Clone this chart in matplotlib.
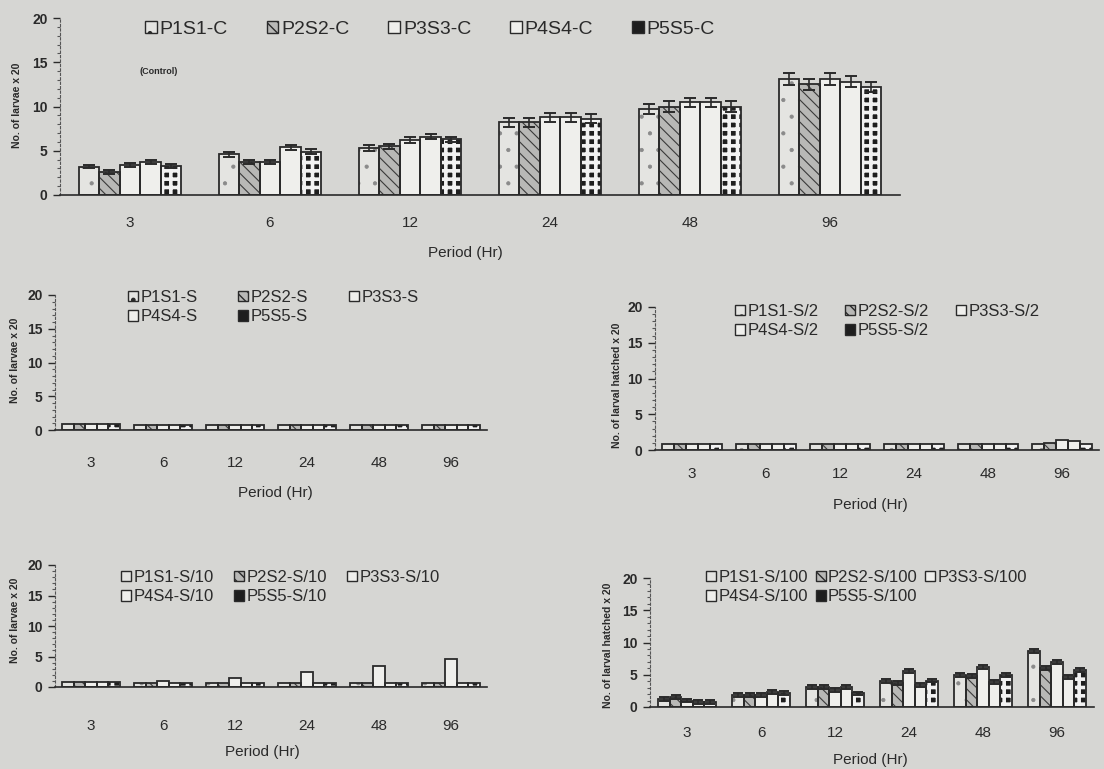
import numpy as np
import matplotlib
matplotlib.use("Agg")
import matplotlib.pyplot as plt
from matplotlib.patches import Rectangle

#%% data (No. of larvae x 20)

periods = ["3", "6", "12", "24", "48", "96"]
series = ["P1S1", "P2S2", "P3S3", "P4S4", "P5S5"]

# rows = periods, columns = P1S1..P5S5
control_vals = [[3.2, 2.6, 3.4, 3.7, 3.3],
                [4.6, 3.7, 3.7, 5.4, 4.9],
                [5.3, 5.5, 6.2, 6.6, 6.3],
                [8.2, 8.2, 8.8, 8.8, 8.6],
                [9.7, 10.0, 10.5, 10.5, 10.0],
                [13.1, 12.5, 13.1, 12.8, 12.2]]
control_err = [[0.2, 0.2, 0.2, 0.2, 0.2],
               [0.3, 0.2, 0.2, 0.3, 0.3],
               [0.3, 0.3, 0.3, 0.3, 0.3],
               [0.5, 0.5, 0.5, 0.5, 0.5],
               [0.6, 0.6, 0.5, 0.5, 0.6],
               [0.7, 0.6, 0.7, 0.6, 0.6]]
s_vals = [[0.9, 0.9, 0.9, 0.9, 0.9],
          [0.8, 0.8, 0.8, 0.8, 0.8],
          [0.8, 0.8, 0.8, 0.8, 0.8],
          [0.8, 0.8, 0.8, 0.8, 0.8],
          [0.8, 0.8, 0.8, 0.8, 0.8],
          [0.8, 0.8, 0.8, 0.8, 0.8]]
s2_vals = [[0.8, 0.8, 0.8, 0.8, 0.8],
           [0.8, 0.8, 0.8, 0.8, 0.8],
           [0.8, 0.8, 0.8, 0.8, 0.8],
           [0.8, 0.8, 0.8, 0.8, 0.8],
           [0.8, 0.8, 0.8, 0.8, 0.8],
           [0.9, 1.0, 1.4, 1.2, 0.9]]
s10_vals = [[0.8, 0.8, 0.8, 0.8, 0.8],
            [0.6, 0.6, 1.0, 0.6, 0.6],
            [0.6, 0.6, 1.4, 0.6, 0.6],
            [0.6, 0.6, 2.5, 0.6, 0.6],
            [0.6, 0.6, 3.4, 0.6, 0.6],
            [0.6, 0.6, 4.6, 0.6, 0.6]]
s100_vals = [[1.3, 1.6, 1.0, 0.8, 0.8],
             [1.8, 1.8, 1.8, 2.3, 2.2],
             [3.1, 3.1, 2.7, 3.1, 2.1],
             [4.0, 3.7, 5.6, 3.4, 4.1],
             [4.9, 4.8, 6.2, 3.9, 4.9],
             [8.7, 6.0, 7.0, 4.7, 5.7]]
s100_err = 0.3  # dark band on top of each S/100 bar

#%% look

W, H = 1104, 769
bg = "#d6d6d3"
ink = "#2a2a2a"
plt.rcParams["font.family"] = ["Liberation Sans", "DejaVu Sans"]
plt.rcParams["text.color"] = ink

# face, hatch, hatch colour, hatch linewidth
styles = [("#e4e4e1", ".", "#8a8a8a", 0.6),
          ("#b8b8b6", "\\\\\\", "#3a3a3a", 0.8),
          ("#efefec", None, ink, 0.8),
          ("#efefec", None, ink, 0.8),
          ("#1e1e1e", "++", "#f2f2f2", 2.6)]

fig = plt.figure(figsize=(W / 100, H / 100), dpi=100, facecolor=bg)


def px(x, y):
    return x / W, 1 - y / H


def hatched(artist_list, lw):
    for p in artist_list:
        if hasattr(p, "set_hatch_linewidth"):
            p.set_hatch_linewidth(lw)


def make_panel(x0, y0, x1, y20, vals, errs, suffix, ylabel, ylab_xy,
               tick_pad, xlab_xy, leg_xy, leg_fs, colsp, bar_w, ncol=3, capsize=4):
    ax = fig.add_axes([x0 / W, 1 - y0 / H, (x1 - x0) / W, (y0 - y20) / H])
    ax.set_facecolor("none")
    vals = np.array(vals)
    x = np.arange(len(periods))
    handles = []
    for j, name in enumerate(series):
        face, hatch, hcol, hlw = styles[j]
        pos = x + (j - 2) * bar_w
        with plt.rc_context({"hatch.linewidth": hlw}):
            fill = ax.bar(pos, vals[:, j], bar_w, facecolor=face, edgecolor=hcol,
                          hatch=hatch, lw=0, zorder=2)
            hatched(fill, hlw)
            ax.bar(pos, vals[:, j], bar_w, fill=False, edgecolor=ink, lw=1.3, zorder=3)
            proxy = Rectangle((0, 0), 1, 1, facecolor=face, edgecolor=ink, lw=1.0,
                              hatch=None if j == 4 else hatch)
        handles.append(proxy)
        if errs is not None:
            e = np.array(errs)[:, j] if np.ndim(errs) else np.full(len(x), errs)
            ax.errorbar(pos, vals[:, j], yerr=e, fmt="none", ecolor=ink,
                        elinewidth=1.2, capsize=capsize, capthick=1.4, zorder=4)
    ax.set_xlim(-0.5, len(periods) - 0.5)
    ax.set_ylim(0, 20)
    ax.set_xticks(x)
    ax.set_xticklabels(periods)
    ax.set_yticks([0, 5, 10, 15, 20])
    ax.set_yticks(np.arange(0, 21, 1), minor=True)
    ax.tick_params(axis="x", length=0, pad=tick_pad, labelsize=11, colors=ink)
    ax.tick_params(axis="y", which="major", length=5, width=1, pad=4,
                   labelsize=10, colors=ink)
    ax.tick_params(axis="y", which="minor", length=2, width=0.8, colors="#555555")
    for lab in ax.get_yticklabels():
        lab.set_fontweight("bold")
    for s in ["top", "right"]:
        ax.spines[s].set_visible(False)
    ax.spines["left"].set_linestyle((0, (2, 2)))
    ax.spines["left"].set_color("#555555")
    ax.spines["bottom"].set_color(ink)
    ax.spines["bottom"].set_linewidth(1.2)

    ax.set_xlabel("Period (Hr)", fontsize=11, va="center", color=ink)
    ax.xaxis.set_label_coords((xlab_xy[0] - x0) / (x1 - x0), (y0 - xlab_xy[1]) / (y0 - y20))
    fx, fy = px(*ylab_xy)
    fig.text(fx, fy, ylabel, rotation=90, ha="center", va="center",
             fontsize=7.5, fontweight="bold", color=ink)

    labels = [f"{s}-{suffix}" for s in series]
    order = [0, 3, 1, 4, 2] if ncol == 3 else list(range(5))  # fill row by row
    lx, ly = px(*leg_xy)
    fig.legend([handles[k] for k in order], [labels[k] for k in order],
               loc="upper left", bbox_to_anchor=(lx, ly), ncol=ncol,
               frameon=False, fontsize=leg_fs, handlelength=0.6, handleheight=0.6,
               handletextpad=0.15, columnspacing=colsp, labelspacing=0.25,
               borderpad=0, borderaxespad=0)
    return ax


#%% five panels

make_panel(60, 195, 900, 18, control_vals, control_err, "C",
           "No. of larvae x 20", (17, 105), 15, (465, 253),
           (145, 21), 14, 2.0, 0.147, ncol=5)
fx, fy = px(140, 72)
fig.text(fx, fy, "(Control)", fontsize=6.5, fontweight="bold", color=ink, va="center")

make_panel(55, 430, 487, 295, s_vals, None, "S",
           "No. of larvae x 20", (15, 360), 19, (275, 493),
           (128, 290), 12, 2.45, 0.16)
make_panel(655, 450, 1099, 307, s2_vals, None, "S/2",
           "No. of larval hatched x 20", (617, 385), 12, (870, 505),
           (735, 304), 12, 1.6, 0.16)
make_panel(55, 687, 487, 565, s10_vals, None, "S/10",
           "No. of larvae x 20", (15, 620), 23, (262, 752),
           (121, 570), 12, 1.2, 0.16)
make_panel(650, 707, 1094, 578, s100_vals, s100_err, "S/100",
           "No. of larval hatched x 20", (608, 645), 14, (870, 760),
           (706, 570), 12, 0.45, 0.155, capsize=3.5)

fig.savefig("out.png", dpi=100, facecolor=bg)
